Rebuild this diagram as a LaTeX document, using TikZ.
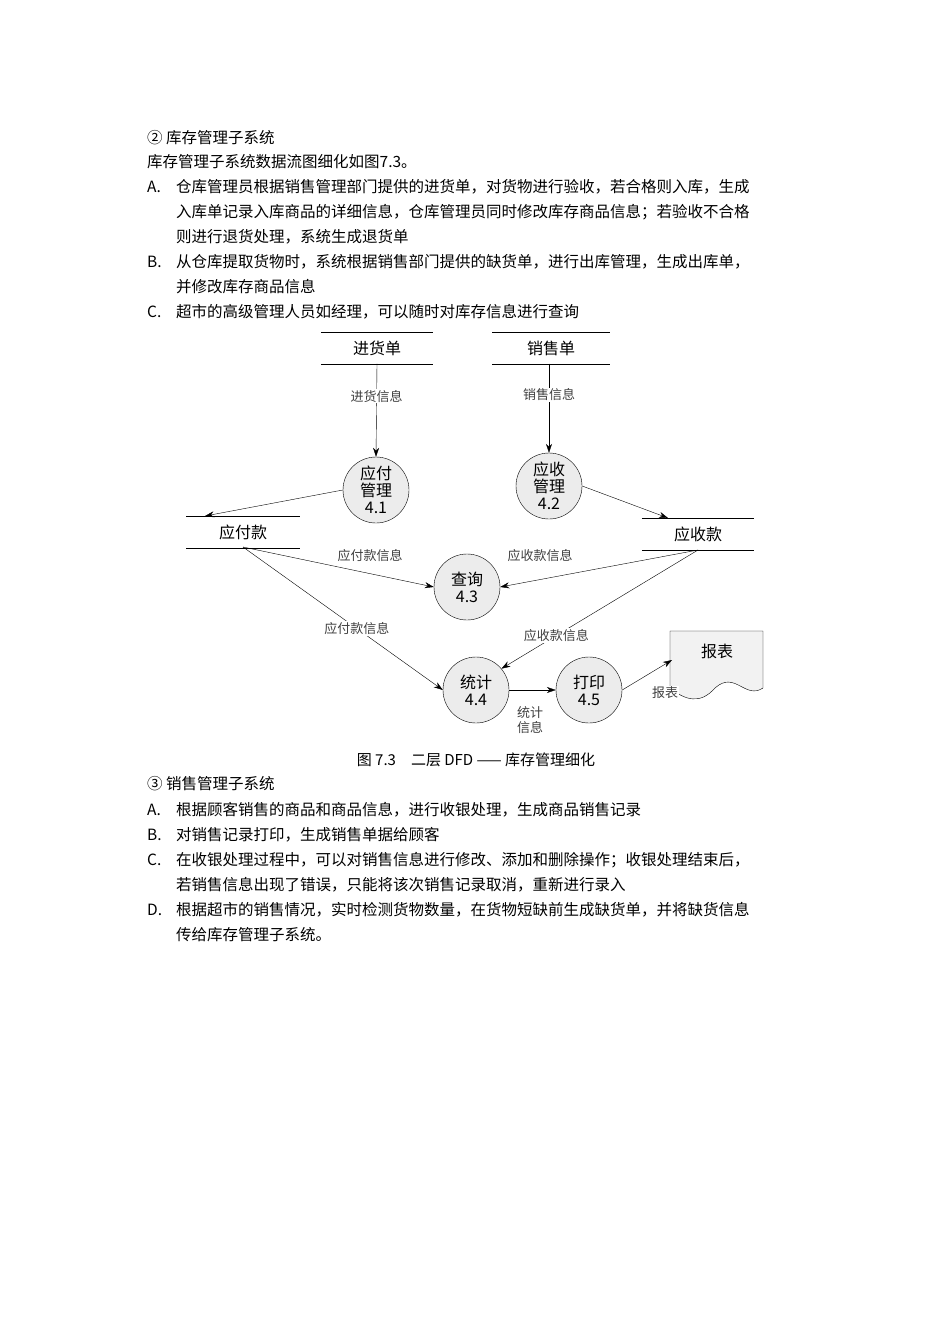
\documentclass[tikz,border=0pt]{standalone}
\usepackage{fontspec}
\setmainfont{Noto Sans CJK SC}
\usetikzlibrary{arrows.meta}
\begin{document}
\begin{tikzpicture}[x=1pt,y=-1pt,
  txt/.style={anchor=west,font=\fontsize{15.5}{18}\selectfont,inner sep=0pt},
  proc/.style={circle,draw,fill=gray!15,minimum size=66pt,inner sep=0pt,align=center,font=\fontsize{16}{17}\selectfont},
  store/.style={minimum width=112pt,minimum height=31pt,inner sep=0pt,font=\fontsize{16}{18}\selectfont},
  lbl/.style={font=\fontsize{13}{15}\selectfont,fill=white,inner sep=1pt,align=center,text=black!75},
  flow/.style={-{Stealth[length=9pt,width=6pt]},thin},
  plain/.style={thin}]
\fill[white] (0,0) rectangle (950,1344);
\useasboundingbox (0,0) rectangle (950,1344);
% text above
\node[txt] (t1) at (147,138) {② 库存管理子系统};
\node[txt] (t2) at (147,162) {库存管理子系统数据流图细化如图7.3。};
\node[txt] (a1) at (147,187) {A.};
\node[txt] (a1t) at (176,187) {仓库管理员根据销售管理部门提供的进货单，对货物进行验收，若合格则入库，生成};
\node[txt] (a2t) at (176,212) {入库单记录入库商品的详细信息，仓库管理员同时修改库存商品信息；若验收不合格};
\node[txt] (a3t) at (176,237) {则进行退货处理，系统生成退货单};
\node[txt] (b1) at (147,262) {B.};
\node[txt] (b1t) at (176,262) {从仓库提取货物时，系统根据销售部门提供的缺货单，进行出库管理，生成出库单，};
\node[txt] (b2t) at (176,287) {并修改库存商品信息};
\node[txt] (c1) at (147,312) {C.};
\node[txt] (c1t) at (176,312) {超市的高级管理人员如经理，可以随时对库存信息进行查询};
% diagram
\node[store] (s1) at (377,348) {进货单};
\node[store,minimum width=117pt] (s2) at (551,348) {销售单};
\node[store,minimum width=113pt] (s3) at (243,532) {应付款};
\node[store] (s4) at (698,534) {应收款};
\foreach \s in {s1,s2,s3,s4}{
  \draw[thin] (\s.north west) -- (\s.north east);
  \draw[thin] (\s.south west) -- (\s.south east);}
\node[proc] (p1) at (376,490) {应付\\管理\\4.1};
\node[proc] (p2) at (549,486) {应收\\管理\\4.2};
\node[proc] (p3) at (467,587) {查询\\4.3};
\node[proc] (p4) at (476,690) {统计\\4.4};
\node[proc] (p5) at (589,690) {打印\\4.5};
% document
\draw[thin,fill=gray!10] (670,631) -- (763,631) -- (763,688) .. controls (745,700) and (735,670) .. (715,688) .. controls (700,705) and (685,700) .. (670,688) -- cycle;
\node[font=\fontsize{16}{18}\selectfont] (rep) at (717,651) {报表};
\coordinate (repin) at (672,660);
% flows
\draw[flow] (s1.south) -- node[lbl,pos=0.35]{进货信息} (p1.north);
\draw[flow] (s2.south -| p2.north) -- node[lbl,pos=0.35]{销售信息} (p2.north);
\draw[flow] (p1.west) -- (205,516);
\draw[flow] (p2.east) -- (668,518);
\coordinate (s3o) at (243,547);
\coordinate (s4o) at (698,550);
\draw[flow] (s3o) -- (p3.west);
\node[lbl] (l1) at (370,556) {应付款信息};
\draw[flow] (s4o) -- (p3.east);
\node[lbl] (l2) at (540,556) {应收款信息};
\draw[flow] (s3o) -- node[lbl,pos=0.57]{应付款信息} (p4.west);
\draw[flow] (s4o) -- node[lbl,pos=0.72]{应收款信息} (p4.40);
\draw[flow] (p4.east) -- (p5.west);
\node[lbl] (l3) at (530,720) {统计\\信息};
\draw[flow] (p5.east) -- (repin);
\node[lbl] (l4) at (665,693) {报表};
\node[font=\fontsize{15}{17}\selectfont] (cap) at (476,760) {图 7.3\quad 二层 DFD —— 库存管理细化};
% text below
\node[txt] (t3) at (147,784) {③ 销售管理子系统};
\node[txt] (d1) at (147,810) {A.};
\node[txt] (d1t) at (176,810) {根据顾客销售的商品和商品信息，进行收银处理，生成商品销售记录};
\node[txt] (e1) at (147,835) {B.};
\node[txt] (e1t) at (176,835) {对销售记录打印，生成销售单据给顾客};
\node[txt] (f1) at (147,860) {C.};
\node[txt] (f1t) at (176,860) {在收银处理过程中，可以对销售信息进行修改、添加和删除操作；收银处理结束后，};
\node[txt] (f2t) at (176,885) {若销售信息出现了错误，只能将该次销售记录取消，重新进行录入};
\node[txt] (g1) at (147,910) {D.};
\node[txt] (g1t) at (176,910) {根据超市的销售情况，实时检测货物数量，在货物短缺前生成缺货单，并将缺货信息};
\node[txt] (g2t) at (176,935) {传给库存管理子系统。};
\end{tikzpicture}
\end{document}
